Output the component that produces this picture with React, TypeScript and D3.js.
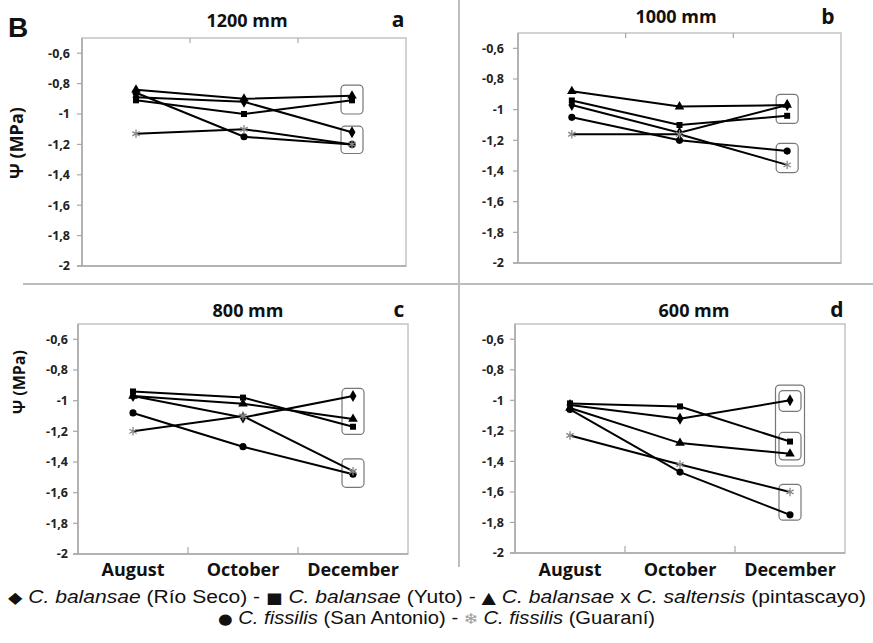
import React from "react";
import * as d3 from "d3";

const months = ["August", "October", "December"];
const panelTitles = ["1200 mm", "1000 mm", "800 mm", "600 mm"];
const panelLetters = ["a", "b", "c", "d"];
const yTicks = [-0.6, -0.8, -1, -1.2, -1.4, -1.6, -1.8, -2];
const yTickLabels = ["-0,6", "-0,8", "-1", "-1,2", "-1,4", "-1,6", "-1,8", "-2"];

// values per panel (a, b, c, d), each [August, October, December]
const rioSeco = [[-0.89, -0.92, -1.12], [-0.97, -1.15, -0.97], [-0.97, -1.11, -0.97], [-1.03, -1.12, -1.0]];
const yuto = [[-0.91, -1.0, -0.91], [-0.94, -1.1, -1.04], [-0.94, -0.98, -1.17], [-1.02, -1.04, -1.27]];
const pintascayo = [[-0.84, -0.9, -0.88], [-0.88, -0.98, -0.97], [-0.97, -1.02, -1.12], [-1.05, -1.28, -1.35]];
const sanAntonio = [[-0.86, -1.15, -1.2], [-1.05, -1.2, -1.27], [-1.08, -1.3, -1.48], [-1.06, -1.47, -1.75]];
const guarani = [[-1.13, -1.1, -1.2], [-1.16, -1.16, -1.36], [-1.2, -1.1, -1.46], [-1.23, -1.42, -1.6]];

// highlight boxes at December, value extents [top, bottom], per panel
const highlightA = [[-0.81, -1.0], [-1.08, -1.26]];
const highlightB = [[-0.9, -1.09], [-1.22, -1.41]];
const highlightC = [[-0.92, -1.22], [-1.38, -1.565]];
const highlightD = [[-0.9, -1.43], [-0.936, -1.072], [-1.21, -1.39], [-1.55, -1.785]];

const seriesList = [
  { name: "rioSeco", values: rioSeco, symbol: d3.symbolDiamond, size: 42, fill: "#000", stroke: "none" },
  { name: "yuto", values: yuto, symbol: d3.symbolSquare, size: 36, fill: "#000", stroke: "none" },
  { name: "pintascayo", values: pintascayo, symbol: d3.symbolTriangle, size: 40, fill: "#000", stroke: "none" },
  { name: "sanAntonio", values: sanAntonio, symbol: d3.symbolCircle, size: 40, fill: "#000", stroke: "none" },
  { name: "guarani", values: guarani, symbol: d3.symbolAsterisk, size: 50, fill: "none", stroke: "#888" },
];

const layouts = [
  { left: 82, right: 406, top: 38, bottom: 266, tickTop: true, showMonths: false, labelRight: 70, yLabel: { x: 17, y: 143, size: 18 }, title: { x: 247, y: 27 }, letter: { x: 398, y: 27 }, boxes: highlightA },
  { left: 518, right: 841, top: 33, bottom: 263, tickTop: true, showMonths: false, labelRight: 504, yLabel: null, title: { x: 676, y: 23 }, letter: { x: 828, y: 24 }, boxes: highlightB },
  { left: 78, right: 408, top: 324, bottom: 554, tickTop: false, showMonths: true, labelRight: 68, yLabel: { x: 19, y: 382, size: 16 }, title: { x: 248, y: 317 }, letter: { x: 399, y: 317 }, boxes: highlightC },
  { left: 515, right: 845, top: 324, bottom: 553, tickTop: false, showMonths: true, labelRight: 504, yLabel: null, title: { x: 694, y: 317 }, letter: { x: 837, y: 317 }, boxes: highlightD },
];

const FONT = "'Open Sans', 'DejaVu Sans', sans-serif";

function Panel({ idx }: { idx: number }) {
  const L = layouts[idx];
  const x = d3.scaleBand<string>().domain(months).range([L.left, L.right]);
  const y = d3.scaleLinear().domain([-2, -0.5]).range([L.bottom, L.top]);
  const cx = (m: string) => (x(m) as number) + x.bandwidth() / 2;
  const line = d3
    .line<number>()
    .x((_, i) => cx(months[i]))
    .y((v) => y(v));
  const boundaries = months.slice(1).map((m) => x(m) as number);
  const decX = cx("December");

  return (
    <g>
      {/* plot box */}
      <rect x={L.left} y={L.top} width={L.right - L.left} height={L.bottom - L.top} fill="none" stroke="#c4c4c4" strokeWidth={1.5} />
      <line x1={L.left} x2={L.left} y1={L.top} y2={L.bottom} stroke="#a8a8a8" strokeWidth={1.5} />
      <line x1={L.left - 5} x2={L.right} y1={L.bottom} y2={L.bottom} stroke="#a8a8a8" strokeWidth={1.5} />
      {/* category ticks */}
      {boundaries.map((bx, i) => (
        <line key={i} x1={bx} x2={bx} y1={L.tickTop ? L.top : L.bottom} y2={L.tickTop ? L.top + 5 : L.bottom - 7} stroke="#a8a8a8" strokeWidth={1.2} />
      ))}
      {/* y ticks */}
      {yTicks.map((t, i) => (
        <g key={i}>
          <line x1={L.left - 5} x2={L.left} y1={y(t)} y2={y(t)} stroke="#a8a8a8" strokeWidth={1.2} />
          <text x={L.labelRight} y={y(t)} dy="0.35em" textAnchor="end" fontFamily={FONT} fontWeight={700} fontSize={12.5} fill="#222">
            {yTickLabels[i]}
          </text>
        </g>
      ))}
      {/* month labels */}
      {L.showMonths &&
        months.map((m) => (
          <text key={m} x={cx(m)} y={576} textAnchor="middle" fontFamily={FONT} fontWeight={700} fontSize={18} fill="#111">
            {m}
          </text>
        ))}
      {/* title and letter */}
      <text x={L.title.x} y={L.title.y} textAnchor="middle" fontFamily={FONT} fontWeight={700} fontSize={18} fill="#111">
        {panelTitles[idx]}
      </text>
      <text x={L.letter.x} y={L.letter.y} textAnchor="middle" fontFamily={FONT} fontWeight={700} fontSize={21} fill="#111">
        {panelLetters[idx]}
      </text>
      {L.yLabel && (
        <text
          transform={`translate(${L.yLabel.x},${L.yLabel.y}) rotate(-90)`}
          dy="0.35em"
          textAnchor="middle"
          fontFamily={FONT}
          fontWeight={700}
          fontSize={L.yLabel.size}
          fill="#111"
        >
          Ψ (MPa)
        </text>
      )}
      {/* highlight boxes */}
      {L.boxes.map((b, i) => {
        const outer = idx === 3 && i === 0;
        const w = outer ? 29 : 22;
        return (
          <rect key={i} x={decX - w / 2} y={y(b[0])} width={w} height={y(b[1]) - y(b[0])} rx={4} ry={4} fill="none" stroke="#777" strokeWidth={1.2} />
        );
      })}
      {/* series lines */}
      {seriesList.map((s) => (
        <path key={s.name} d={line(s.values[idx]) as string} fill="none" stroke="#000" strokeWidth={2} />
      ))}
      {/* markers */}
      {seriesList.map((s) =>
        s.values[idx].map((v, i) => (
          <path
            key={s.name + i}
            transform={`translate(${cx(months[i])},${y(v)})`}
            d={d3.symbol().type(s.symbol).size(s.size)() as string}
            fill={s.fill}
            stroke={s.stroke}
            strokeWidth={1.3}
          />
        ))
      )}
    </g>
  );
}

const LEG = "'Liberation Sans', Arial, sans-serif";

export default function App() {
  return (
    <svg width={873} height={643} style={{ position: "absolute", left: 0, top: 0, background: "#fff" }}>
      <rect x={0} y={0} width={873} height={643} fill="#fff" />
      {/* dividers */}
      <line x1={459} x2={459} y1={0} y2={567} stroke="#bdbdbd" strokeWidth={2} />
      <line x1={23} x2={873} y1={284} y2={284} stroke="#bdbdbd" strokeWidth={2} />
      <text x={8} y={37} fontFamily={LEG} fontWeight={700} fontSize={28} fill="#111">B</text>
      {[0, 1, 2, 3].map((i) => (
        <Panel key={i} idx={i} />
      ))}
      <text x={8} y={603} textLength={858} lengthAdjust="spacingAndGlyphs" fontFamily={LEG} fontSize={18} fill="#111">
        <tspan fontFamily="'DejaVu Sans'" fontSize={16}>◆</tspan>
        <tspan> </tspan>
        <tspan fontStyle="italic">C. balansae</tspan>
        <tspan> (Río Seco) - </tspan>
        <tspan fontFamily="'DejaVu Sans'" fontSize={15}>■</tspan>
        <tspan> </tspan>
        <tspan fontStyle="italic">C. balansae</tspan>
        <tspan> (Yuto) - </tspan>
        <tspan fontFamily="'DejaVu Sans'" fontSize={16}>▲</tspan>
        <tspan> </tspan>
        <tspan fontStyle="italic">C. balansae</tspan>
        <tspan> x </tspan>
        <tspan fontStyle="italic">C. saltensis</tspan>
        <tspan> (pintascayo)</tspan>
      </text>
      <text x={218} y={624} textLength={437} lengthAdjust="spacingAndGlyphs" fontFamily={LEG} fontSize={18} fill="#111">
        <tspan fontFamily="'DejaVu Sans'" fontSize={15}>●</tspan>
        <tspan> </tspan>
        <tspan fontStyle="italic">C. fissilis</tspan>
        <tspan> (San Antonio) - </tspan>
        <tspan fontFamily="'DejaVu Sans'" fontSize={15} fill="#999">❄</tspan>
        <tspan> </tspan>
        <tspan fontStyle="italic">C. fissilis</tspan>
        <tspan> (Guaraní)</tspan>
      </text>
    </svg>
  );
}
